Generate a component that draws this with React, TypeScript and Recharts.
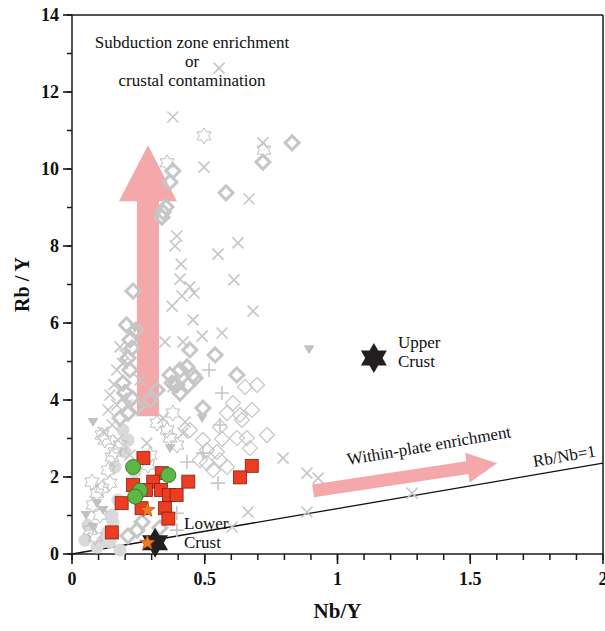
import React from "react";
import {
  ScatterChart,
  Scatter,
  XAxis,
  YAxis,
  ReferenceLine,
  ReferenceDot,
  Label,
} from "recharts";

const SERIF = '"Liberation Serif", "Times New Roman", Times, serif';
const GRAY = "#c6c6c6";
const PINK = "#f5a8a9";
const INK = "#1a1a1a";

const xTicks = [0, 0.1, 0.2, 0.3, 0.4, 0.5, 0.6, 0.7, 0.8, 0.9, 1, 1.1, 1.2, 1.3, 1.4, 1.5, 1.6, 1.7, 1.8, 1.9, 2];
const yTicks = [0, 1, 2, 3, 4, 5, 6, 7, 8, 9, 10, 11, 12, 13, 14];

// background literature data (gray)
const crossPts = [
  [0.554, 12.62], [0.38, 11.35], [0.497, 10.05], [0.719, 10.68], [0.667, 9.22],
  [0.395, 8.26], [0.388, 8.0], [0.625, 8.08], [0.55, 7.79], [0.411, 7.53],
  [0.61, 7.12], [0.407, 7.14], [0.444, 6.94], [0.414, 6.7], [0.46, 6.78],
  [0.377, 6.44], [0.682, 6.31], [0.456, 6.08], [0.49, 5.66], [0.565, 5.74],
  [0.181, 5.38], [0.418, 5.51], [0.35, 5.51], [0.169, 4.78], [0.795, 2.49],
  [0.885, 2.1], [0.927, 1.97], [0.663, 1.09], [0.885, 1.09], [0.603, 0.7],
  [1.281, 1.58], [0.136, 3.74], [0.169, 3.87], [0.207, 3.87], [0.426, 3.43],
  [0.418, 3.14], [0.282, 2.88], [0.117, 3.17], [0.38, 4.34], [0.188, 4.05],
  [0.256, 4.52], [0.343, 3.53], [0.173, 2.96], [0.143, 4.13], [0.2, 5.17],
  [0.151, 3.35], [0.218, 2.57], [0.19, 4.95], [0.158, 4.4],
];
const plusPts = [
  [0.516, 4.78], [0.565, 4.18], [0.557, 3.35], [0.493, 2.62], [0.55, 1.84],
  [0.395, 0.62], [0.433, 2.39], [0.395, 1.06],
];
const thickDiamondPts = [
  [0.829, 10.68], [0.719, 10.18], [0.58, 9.38], [0.38, 9.95], [0.369, 9.66],
  [0.354, 9.01], [0.343, 8.88], [0.339, 8.75], [0.23, 6.83], [0.226, 5.35],
  [0.211, 5.09], [0.218, 4.78], [0.192, 4.44], [0.369, 4.65], [0.433, 4.86],
  [0.444, 5.3], [0.539, 5.17], [0.621, 4.65], [0.377, 4.44], [0.456, 4.65],
  [0.493, 3.79], [0.407, 4.78], [0.463, 4.57], [0.395, 4.39], [0.437, 4.39],
  [0.407, 4.18], [0.181, 3.53], [0.211, 3.66], [0.245, 3.82], [0.294, 4.0],
  [0.32, 4.26], [0.241, 5.82], [0.218, 5.56], [0.245, 0.62], [0.264, 0.83],
  [0.211, 0.47], [0.331, 0.68], [0.2, 4.2], [0.226, 4.05], [0.205, 5.95],
];
const thinDiamondPts = [
  [0.652, 4.34], [0.697, 4.39], [0.606, 3.92], [0.584, 3.66], [0.633, 3.61],
  [0.557, 3.3], [0.734, 3.09], [0.659, 3.01], [0.621, 3.01], [0.565, 2.99],
  [0.493, 2.96], [0.67, 2.75], [0.546, 2.65], [0.557, 2.44], [0.508, 2.36],
  [0.531, 2.18], [0.584, 2.26], [0.482, 2.44], [0.508, 2.7], [0.678, 3.74],
  [0.64, 3.48], [0.444, 3.22],
];
const hollowStarPts = [
  [0.497, 10.86], [0.358, 10.16], [0.723, 10.49], [0.124, 2.96], [0.151, 2.52],
  [0.369, 3.01], [0.358, 3.22], [0.113, 3.09], [0.162, 2.65], [0.294, 2.57],
  [0.286, 2.31], [0.32, 3.4], [0.38, 3.66], [0.395, 2.83], [0.113, 1.71],
  [0.094, 1.58], [0.143, 1.84], [0.079, 1.27], [0.068, 0.62], [0.087, 0.44],
  [0.105, 1.01], [0.181, 2.83], [0.136, 2.18], [0.075, 1.87],
];
const grayCirclePts = [
  [0.192, 3.22], [0.2, 2.65], [0.162, 2.26], [0.237, 2.13], [0.132, 0.55],
  [0.143, 0.31], [0.113, 0.31], [0.094, 0.18], [0.181, 0.1], [0.151, 1.01],
  [0.154, 0.83], [0.06, 0.75], [0.173, 1.4], [0.049, 0.36], [0.211, 2.96],
];
const trianglePts = [
  [0.893, 5.32], [0.079, 3.43], [0.237, 5.87], [0.49, 3.53], [0.094, 1.32],
  [0.117, 1.14], [0.079, 0.7], [0.369, 2.75], [0.053, 1.01],
];

// this study
const redSquarePts = [
  [0.269, 2.49], [0.677, 2.29], [0.633, 1.99], [0.438, 1.88], [0.338, 2.1],
  [0.306, 1.88], [0.23, 1.79], [0.279, 1.66], [0.335, 1.66], [0.365, 1.53],
  [0.394, 1.53], [0.187, 1.32], [0.262, 1.19], [0.35, 1.19], [0.363, 0.92],
  [0.15, 0.56],
];
const greenCirclePts = [[0.23, 2.26], [0.363, 2.05], [0.256, 1.65], [0.238, 1.49]];
const orangeStarPts = [[0.284, 1.14], [0.284, 0.29]];
const crustPts = [[1.137, 5.09], [0.313, 0.29]];

const toPts = (arr: number[][]) => arr.map(([x, y]) => ({ x, y }));

function starPath(cx: number, cy: number, n: number, R: number, r: number) {
  let d = "";
  for (let i = 0; i < 2 * n; i++) {
    const a = -Math.PI / 2 + (i * Math.PI) / n;
    const rad = i % 2 === 0 ? R : r;
    d += (i ? "L" : "M") + (cx + rad * Math.cos(a)).toFixed(2) + "," + (cy + rad * Math.sin(a)).toFixed(2);
  }
  return d + "Z";
}

const CrossShape = ({ cx, cy }: any) => (
  <path d={`M${cx - 5.5},${cy - 5.5}L${cx + 5.5},${cy + 5.5}M${cx - 5.5},${cy + 5.5}L${cx + 5.5},${cy - 5.5}`} stroke={GRAY} strokeWidth={1.6} fill="none" />
);
const PlusShape = ({ cx, cy }: any) => (
  <path d={`M${cx - 7},${cy}L${cx + 7},${cy}M${cx},${cy - 7}L${cx},${cy + 7}`} stroke={GRAY} strokeWidth={1.6} fill="none" />
);
const ThickDiamond = ({ cx, cy }: any) => (
  <path d={`M${cx},${cy - 7}L${cx + 7},${cy}L${cx},${cy + 7}L${cx - 7},${cy}Z`} stroke={GRAY} strokeWidth={3} fill="none" />
);
const ThinDiamond = ({ cx, cy }: any) => (
  <path d={`M${cx},${cy - 7.5}L${cx + 7.5},${cy}L${cx},${cy + 7.5}L${cx - 7.5},${cy}Z`} stroke={GRAY} strokeWidth={1.2} fill="none" />
);
const HollowStar = ({ cx, cy }: any) => (
  <path d={starPath(cx, cy, 6, 8, 4.7)} stroke="#bdbdbd" strokeWidth={1} fill="none" />
);
const GrayCircle = ({ cx, cy }: any) => <circle cx={cx} cy={cy} r={6.5} fill="#d9d9d9" />;
const TriangleDown = ({ cx, cy }: any) => (
  <path d={`M${cx - 5.5},${cy - 4}L${cx + 5.5},${cy - 4}L${cx},${cy + 5}Z`} fill="#c2c2c2" />
);
const RedSquare = ({ cx, cy }: any) => (
  <rect x={cx - 6.5} y={cy - 6.5} width={13} height={13} fill="#ea3d22" stroke="#8a1d10" strokeWidth={0.8} />
);
const GreenCircle = ({ cx, cy }: any) => (
  <circle cx={cx} cy={cy} r={7.5} fill="#5cb845" stroke="#2f6a25" strokeWidth={0.8} />
);
const OrangeStar = ({ cx, cy }: any) => (
  <path d={starPath(cx, cy, 5, 8, 3.4)} fill="#f27824" stroke="#9a4410" strokeWidth={0.6} />
);
const BlackStar = ({ cx, cy }: any) => <path d={starPath(cx, cy, 6, 15, 8.7)} fill="#231f20" />;

const arrowShape = (shaftW: number, headW: number, headL: number) => (p: any) => {
  const { x1, y1, x2, y2 } = p;
  const dx = x2 - x1;
  const dy = y2 - y1;
  const len = Math.hypot(dx, dy);
  const ux = dx / len;
  const uy = dy / len;
  const nx = -uy;
  const ny = ux;
  const bx = x2 - ux * headL;
  const by = y2 - uy * headL;
  const pts = [
    [x1 + (nx * shaftW) / 2, y1 + (ny * shaftW) / 2],
    [bx + (nx * shaftW) / 2, by + (ny * shaftW) / 2],
    [bx + (nx * headW) / 2, by + (ny * headW) / 2],
    [x2, y2],
    [bx - (nx * headW) / 2, by - (ny * headW) / 2],
    [bx - (nx * shaftW) / 2, by - (ny * shaftW) / 2],
    [x1 - (nx * shaftW) / 2, y1 - (ny * shaftW) / 2],
  ];
  return <polygon points={pts.map((q) => q.join(",")).join(" ")} fill={PINK} />;
};

// longer outward marks at the labelled ticks
const xTickShape = (len: number) => (p: any) => {
  const yb = Math.max(Number(p.y1), Number(p.y2));
  return <rect x={Number(p.x1) - 0.8} y={yb} width={1.6} height={len} fill={INK} />;
};
const yTickShape = (len: number) => (p: any) => {
  const xl = Math.min(Number(p.x1), Number(p.x2));
  return <rect x={xl - len} y={Number(p.y1) - 0.8} width={len} height={1.6} fill={INK} />;
};

const noteShape = (lines: string[], angle = 0, anchor = "start") => (p: any) => (
  <text
    x={p.cx}
    y={p.cy}
    style={{ fontFamily: SERIF, fontSize: 17 }}
    fill="#111"
    textAnchor={anchor}
    transform={angle ? `rotate(${angle} ${p.cx} ${p.cy})` : undefined}
  >
    {lines.map((t, i) => (
      <tspan key={i} x={p.cx} dy={i === 0 ? 0 : 19}>
        {t}
      </tspan>
    ))}
  </text>
);

const tickText = { fontFamily: SERIF, fontWeight: 700, fontSize: 18 };
const isMajorX = (v: number) => Math.abs(v * 2 - Math.round(v * 2)) < 1e-6;

const YTick = ({ x, y, payload }: any) => {
  const v = payload.value;
  if (v % 2 !== 0) return <g />;
  return (
    <text x={x} y={y + 6} textAnchor="end" style={tickText} fill="#111">
      {v}
    </text>
  );
};

const XTick = ({ x, y, payload }: any) => {
  const v = payload.value;
  if (!isMajorX(v)) return <g />;
  return (
    <text x={x} y={y + 18} textAnchor="middle" style={tickText} fill="#111">
      {v}
    </text>
  );
};

export default function App() {
  return (
    <div style={{ position: "absolute", left: 0, top: 0, background: "#fff" }}>
      <ScatterChart width={605} height={631} margin={{ top: 15, right: 2, bottom: 0, left: 0 }}>
        <XAxis
          type="number"
          dataKey="x"
          domain={[0, 2]}
          ticks={xTicks}
          interval={0}
          height={77}
          tickSize={6}
          tickMargin={7}
          tickLine={{ stroke: INK, strokeWidth: 1.5 }}
          tick={<XTick />}
          axisLine={{ stroke: INK, strokeWidth: 1.5 }}
        >
          <Label
            content={(p: any) => (
              <text
                x={p.viewBox.x + p.viewBox.width / 2}
                y={p.viewBox.y + 64}
                textAnchor="middle"
                style={{ fontFamily: SERIF, fontWeight: 700, fontSize: 21 }}
                fill="#111"
              >
                Nb/Y
              </text>
            )}
          />
        </XAxis>
        <YAxis
          type="number"
          dataKey="y"
          domain={[0, 14]}
          ticks={yTicks}
          interval={0}
          width={72}
          tickSize={5}
          tickMargin={8}
          tickLine={{ stroke: INK, strokeWidth: 1.5 }}
          tick={<YTick />}
          axisLine={{ stroke: INK, strokeWidth: 1.5 }}
        >
          <Label
            content={(p: any) => {
              const cx = 29;
              const cy = p.viewBox.y + p.viewBox.height / 2;
              return (
                <text
                  x={cx}
                  y={cy}
                  textAnchor="middle"
                  transform={`rotate(-90 ${cx} ${cy})`}
                  style={{ fontFamily: SERIF, fontWeight: 700, fontSize: 20 }}
                  fill="#111"
                >
                  Rb / Y
                </text>
              );
            }}
          />
        </YAxis>

        <ReferenceLine y={14} stroke={INK} strokeWidth={1.5} />
        <ReferenceLine x={2} stroke={INK} strokeWidth={1.5} />
        {xTicks.filter(isMajorX).map((v) => (
          <ReferenceLine key={`xt${v}`} x={v} ifOverflow="visible" shape={xTickShape(10)} />
        ))}
        {yTicks.filter((v) => v % 2 === 0).map((v) => (
          <ReferenceLine key={`yt${v}`} y={v} ifOverflow="visible" shape={yTickShape(9)} />
        ))}

        <Scatter data={toPts(grayCirclePts)} shape={<GrayCircle />} isAnimationActive={false} />
        <Scatter data={toPts(trianglePts)} shape={<TriangleDown />} isAnimationActive={false} />
        <Scatter data={toPts(hollowStarPts)} shape={<HollowStar />} isAnimationActive={false} />
        <Scatter data={toPts(thinDiamondPts)} shape={<ThinDiamond />} isAnimationActive={false} />
        <Scatter data={toPts(thickDiamondPts)} shape={<ThickDiamond />} isAnimationActive={false} />
        <Scatter data={toPts(plusPts)} shape={<PlusShape />} isAnimationActive={false} />
        <Scatter data={toPts(crossPts)} shape={<CrossShape />} isAnimationActive={false} />

        <ReferenceLine segment={[{ x: 0, y: 0 }, { x: 2, y: 2.36 }]} stroke="#111" strokeWidth={1.3} />
        <ReferenceLine segment={[{ x: 0.286, y: 3.58 }, { x: 0.286, y: 10.62 }]} shape={arrowShape(22, 58, 56)} />
        <ReferenceLine segment={[{ x: 0.908, y: 1.64 }, { x: 1.601, y: 2.36 }]} shape={arrowShape(13, 30, 30)} />

        <Scatter data={toPts(crustPts)} shape={<BlackStar />} isAnimationActive={false} />
        <Scatter data={toPts(redSquarePts)} shape={<RedSquare />} isAnimationActive={false} />
        <Scatter data={toPts(greenCirclePts)} shape={<GreenCircle />} isAnimationActive={false} />
        <Scatter data={toPts(orangeStarPts)} shape={<OrangeStar />} isAnimationActive={false} />

        <ReferenceDot x={0.452} y={13.14} r={0} shape={noteShape(["Subduction zone enrichment", "or", "crustal contamination"], 0, "middle")} />
        <ReferenceDot x={1.228} y={5.35} r={0} shape={noteShape(["Upper", "Crust"])} />
        <ReferenceDot x={0.422} y={0.65} r={0} shape={noteShape(["Lower", "Crust"])} />
        <ReferenceDot x={1.04} y={2.31} r={0} shape={noteShape(["Within-plate enrichment"], -9.7)} />
        <ReferenceDot x={1.74} y={2.26} r={0} shape={noteShape(["Rb/Nb=1"], -9.7)} />
      </ScatterChart>
    </div>
  );
}
